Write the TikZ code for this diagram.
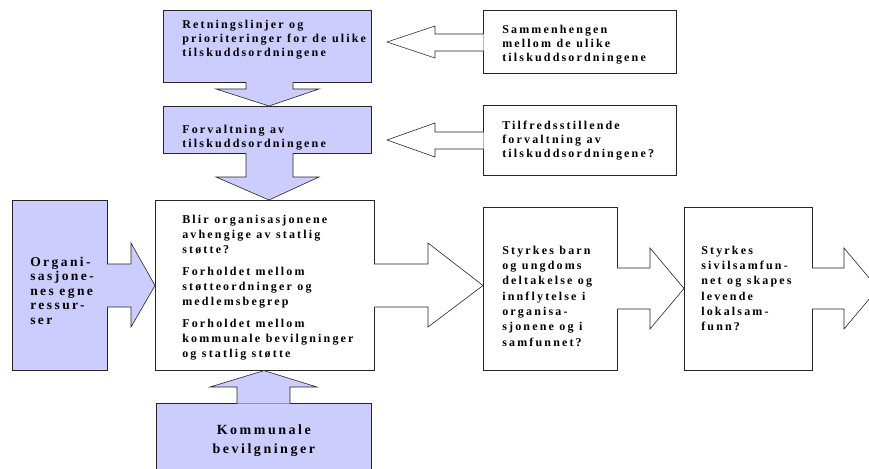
\documentclass[tikz,border=0pt]{standalone}
\usepackage{fontspec}
\setmainfont{Liberation Serif}
\newfontfamily\sperret[LetterSpace=18]{Liberation Serif}
\usetikzlibrary{calc,positioning}
\definecolor{lilla}{RGB}{204,204,255}
\newcommand\tekst{\sperret\bfseries\fontsize{12}{14}\selectfont}
\tikzset{
    innrykk/.style={execute at begin node={\leftskip=#1\relax\spaceskip=5.5pt plus 1pt\relax}},
    boks/.style={draw=black!85,line width=0.6pt,anchor=north west,inner sep=0pt,font=\tekst},
    felt/.style={boks,align=left,innrykk=19pt},
    blaafelt/.style={felt,fill=lilla},
    hvitfelt/.style={felt,fill=white},
    blokkpil/.style={draw=black!85,line width=0.6pt,line join=miter},
}

\begin{document}
\begin{tikzpicture}[x=1pt,y=-1pt]
    \useasboundingbox (0,0) rectangle (869,468);
    \clip (0,0) rectangle (869,468);

    % boksene
    \node [blaafelt,text width=208pt,text height=18pt,text depth=54pt] (retning) at (163,10)
        {Retningslinjer og\\prioriteringer for de ulike\\tilskuddsordningene};
    \node [blaafelt,text width=208pt,text height=27pt,text depth=20pt] (forvalt) at (163,106)
        {Forvaltning av\\tilskuddsordningene};
    \node [hvitfelt,text width=193pt,text height=23pt,text depth=40pt] (sammen) at (483,10)
        {Sammenhengen\\mellom de ulike\\tilskuddsordningene};
    \node [hvitfelt,text width=193pt,text height=24pt,text depth=46pt] (tilfreds) at (483,105)
        {Tilfredsstillende\\forvaltning av\\tilskuddsordningene?};
    \node [hvitfelt,text width=219pt,innrykk=27pt,text height=23pt,text depth=147pt,
        font=\tekst\fontsize{12}{15}\selectfont] (midt) at (155,200)
        {Blir organisasjonene\\avhengige av statlig\\støtte?\\[7pt]Forholdet mellom\\støtteordninger og\\medlemsbegrep\\[7pt]Forholdet mellom\\kommunale bevilgninger\\og statlig støtte};
    \node [blaafelt,text width=95pt,innrykk=18pt,text height=66pt,text depth=104pt,
        font=\tekst\fontsize{13.5}{14.5}\selectfont] (egne) at (12,200)
        {Organi-\\sasjone-\\nes egne\\ressur-\\ser};
    \node [boks,fill=lilla,align=center,text width=215pt,text height=31pt,text depth=36pt,
        font=\tekst\fontsize{14}{19}\selectfont] (kommunal) at (156,403)
        {Kommunale\\bevilgninger};
    \node [hvitfelt,text width=134pt,text height=47pt,text depth=116pt,
        font=\tekst\fontsize{12}{15.3}\selectfont] (barn) at (483,207)
        {Styrkes barn\\og ungdoms\\deltakelse og\\innflytelse i\\organisa-\\sjonene og i\\samfunnet?};
    \node [hvitfelt,text width=128pt,innrykk=17pt,text height=47pt,text depth=116pt,
        font=\tekst\fontsize{12}{15.3}\selectfont] (sivil) at (684,207)
        {Styrkes\\sivilsamfun-\\net og skapes\\levende\\lokalsam-\\funn?};
    \coordinate (ut) at (878,288.5);

    % blokkpilene
    \path [blokkpil,fill=lilla] ($(246,0 |- retning.south)+(0,-0.5)$) -- (246,89) -- (216,89)
        -- (269,0 |- forvalt.north) -- (319,89) -- (293,89) -- ($(293,0 |- retning.south)+(0,-0.5)$);
    \path [blokkpil,fill=lilla] ($(246,0 |- forvalt.south)+(0,-0.5)$) -- (246,177) -- (216,177)
        -- (269,0 |- midt.north) -- (319,177) -- (293,177) -- ($(293,0 |- forvalt.south)+(0,-0.5)$);
    \path [blokkpil,fill=white] ($(sammen.west |- 0,34)+(0.5,0)$) -- (435,34) -- (435,26)
        -- (387,42) -- (435,58) -- (435,51) -- ($(sammen.west |- 0,51)+(0.5,0)$);
    \path [blokkpil,fill=white] ($(tilfreds.west |- 0,132)+(0.5,0)$) -- (435,132) -- (435,123)
        -- (387,140) -- (435,157) -- (435,149) -- ($(tilfreds.west |- 0,149)+(0.5,0)$);
    \path [blokkpil,fill=lilla] ($(egne.east |- 0,264)+(-0.5,0)$) -- (131,264) -- (131,243)
        -- (midt.west |- 0,285.5) -- (131,327) -- (131,307) -- ($(egne.east |- 0,307)+(-0.5,0)$);
    \path [blokkpil,fill=lilla] ($(237,0 |- kommunal.north)+(0,0.5)$) -- (237,387) -- (210,387)
        -- (264,0 |- midt.south) -- (317,387) -- (290,387) -- ($(290,0 |- kommunal.north)+(0,0.5)$);
    \path [blokkpil,fill=white] ($(midt.east |- 0,264)+(-0.5,0)$) -- (428,264) -- (428,243)
        -- (barn.west |- 0,285.5) -- (428,327) -- (428,307) -- ($(midt.east |- 0,307)+(-0.5,0)$);
    \path [blokkpil,fill=white] ($(barn.east |- 0,268)+(-0.5,0)$) -- (650,268) -- (650,248)
        -- (sivil.west |- 0,288.5) -- (650,329) -- (650,309) -- ($(barn.east |- 0,309)+(-0.5,0)$);
    \path [blokkpil,fill=white] ($(sivil.east |- 0,268)+(-0.5,0)$) -- (844,268) -- (844,248)
        -- (ut) -- (844,329) -- (844,309) -- ($(sivil.east |- 0,309)+(-0.5,0)$);
\end{tikzpicture}
\end{document}
